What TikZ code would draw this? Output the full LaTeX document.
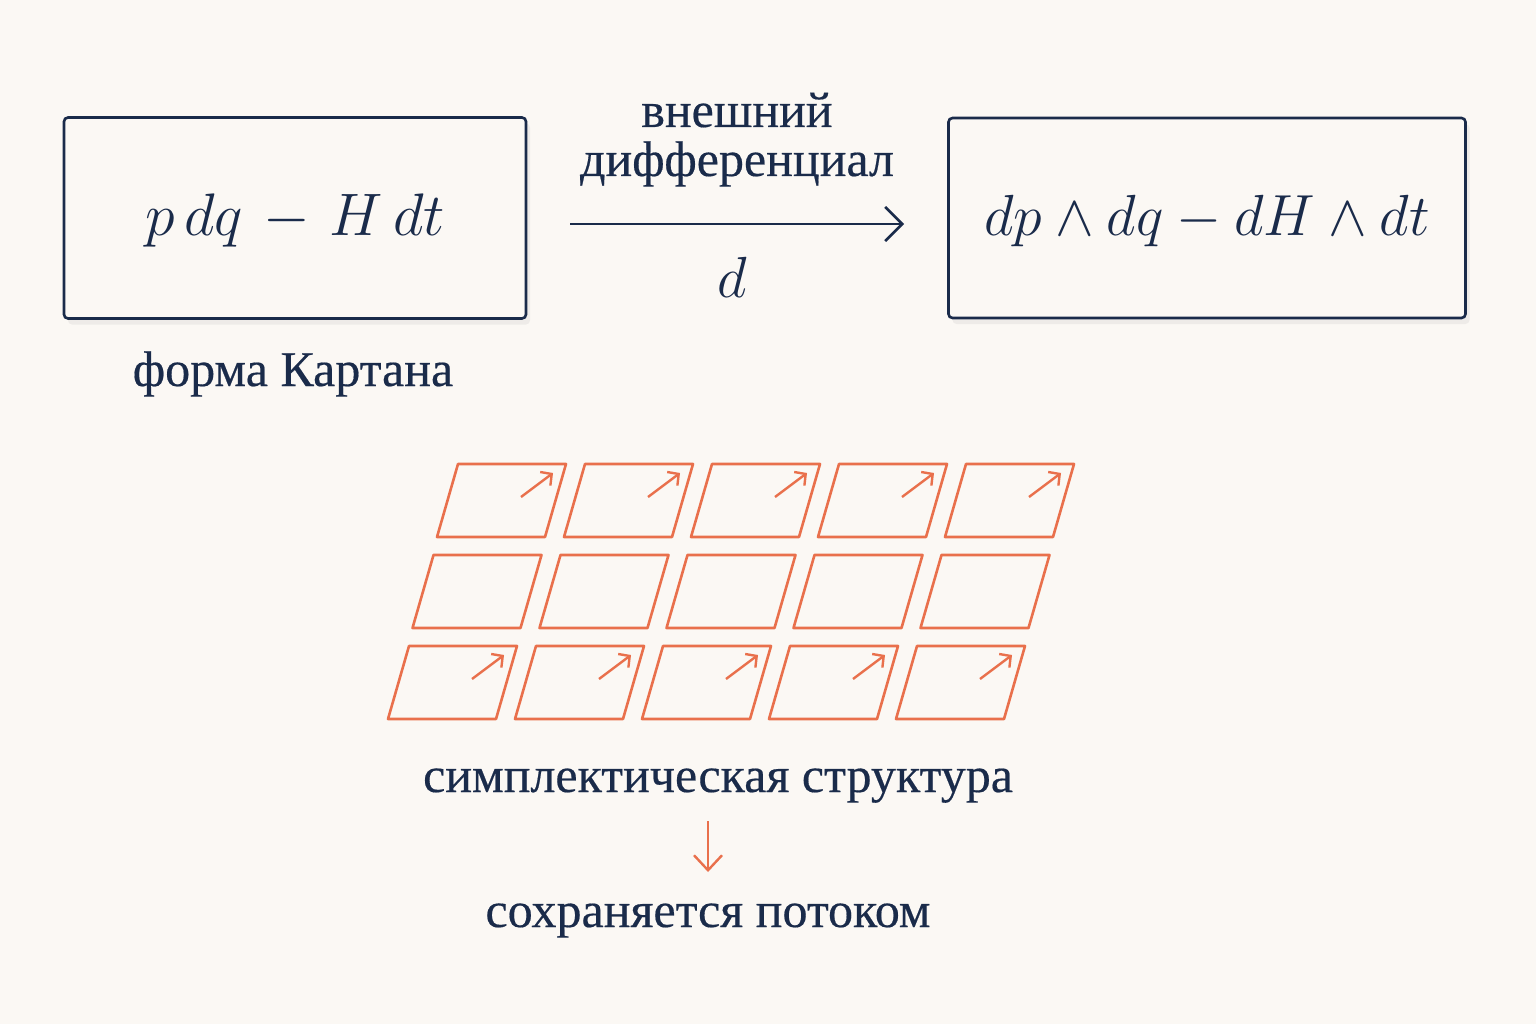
\RequirePackage{fix-cm}
\documentclass[tikz,border=0pt]{standalone}
\usepackage[no-math]{fontspec}
\setmainfont{Liberation Serif}[FakeBold=0.35]
\usetikzlibrary{arrows.meta,shadows}
\definecolor{paper}{HTML}{FBF8F4}
\definecolor{ink}{HTML}{1A2B4A}
\definecolor{coral}{HTML}{E9704C}
\tikzset{
  formbox/.style={draw=ink, line width=2.6pt, rounded corners=4pt, fill=paper,
    text=ink, text height=40pt, text depth=4pt,
    drop shadow={opacity=0.10, shadow xshift=4pt, shadow yshift=-6pt},
    font=\fontsize{60}{66}\selectfont},
  caption/.style={text=ink, font=\fontsize{50}{49}\selectfont, align=center},
  mainarrow/.style={draw=ink, line width=2.8pt, -{Straight Barb[length=17pt,width=34pt]}},
  downarrow/.style={draw=coral, line width=2.4pt, -{Straight Barb[length=15pt,width=28pt]}},
  cell/.style={draw=coral, line width=2.6pt, line join=round},
  tick/.style={draw=coral, line width=2.4pt, -{Straight Barb[length=8pt,width=17pt]}}
}
\begin{document}
\begin{tikzpicture}[x=1pt, y=-1pt]
  \fill[paper] (0,0) rectangle (1536,1024);
  % the two forms
  \node[formbox, minimum width=462pt, minimum height=201pt] (cartan) at (295,218)
    {$p\,dq \mskip2mu - \mskip2mu H\,dt$};
  \node[formbox, minimum width=517pt, minimum height=200pt, font=\fontsize{58}{64}\selectfont] (symp) at (1207,218)
    {$dp\wedge dq - dH\wedge dt$};
  \node[caption, anchor=base] (cartanlbl) at (293,386) {форма Картана};
  % exterior derivative
  \draw[mainarrow] ([xshift=43pt,yshift=-6pt]cartan.east) -- ([xshift=-43pt,yshift=-6pt]symp.west);
  \node[caption, anchor=base] (extlbl) at (737,176) {внешний\\дифференциал};
  \node[caption, anchor=base, font=\fontsize{58}{64}\selectfont] (dlbl) at (732,298) {$d$};
  % lattice of area elements
  \foreach \r in {0,1,2}
    \foreach \c in {0,...,4}
      \draw[cell] (437-24.5*\r+127*\c, 537+91*\r) -- ++(108,0) -- ++(21,-73) -- ++(-108,0) -- cycle;
  \foreach \r in {0,2}
    \foreach \c in {0,...,4}
      \draw[tick] (521-24.5*\r+127*\c, 497+91*\r) -- ++(32,-24);
  \node[caption, anchor=base] (sympl) at (718,792) {симплектическая структура};
  \node[caption, anchor=base] (flow) at (708,927) {сохраняется потоком};
  \draw[downarrow] ([xshift=-10pt,yshift=-29pt]sympl.base) -- ([yshift=55pt]flow.base);
\end{tikzpicture}
\end{document}
